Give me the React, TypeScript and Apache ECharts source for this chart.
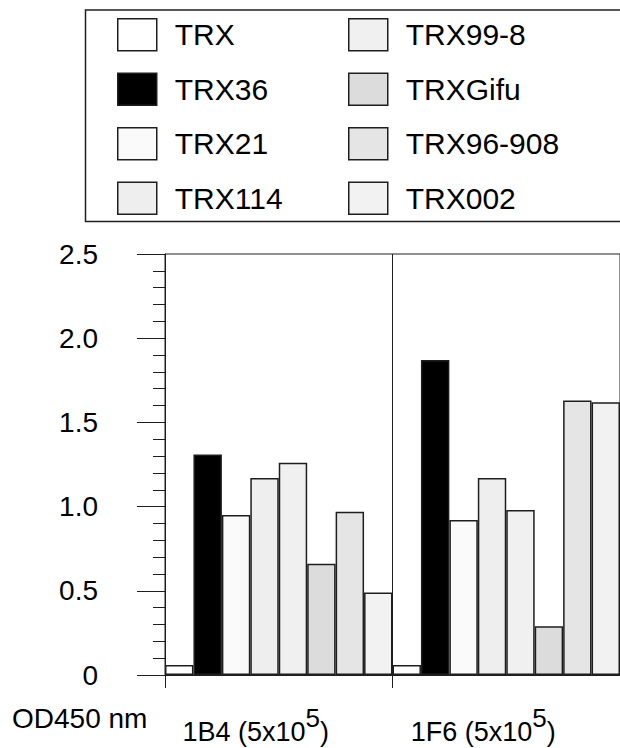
import React, { useEffect, useRef } from "react";
import * as echarts from "echarts";

const categories = ["1B4 (5x10^5)", "1F6 (5x10^5)"];
const seriesNames = ["TRX", "TRX36", "TRX21", "TRX114", "TRX99-8", "TRXGifu", "TRX96-908", "TRX002"];
const seriesColors = ["#ffffff", "#000000", "#fafafa", "#eeeeee", "#f0f0f0", "#dcdcdc", "#e5e5e5", "#f2f2f2"];
const trx = [0.06, 0.06];
const trx36 = [1.31, 1.87];
const trx21 = [0.95, 0.92];
const trx114 = [1.17, 1.17];
const trx99_8 = [1.26, 0.98];
const trxGifu = [0.66, 0.29];
const trx96_908 = [0.97, 1.63];
const trx002 = [0.49, 1.62];
const seriesValues = [trx, trx36, trx21, trx114, trx99_8, trxGifu, trx96_908, trx002];
const yTicks = [0, 0.5, 1.0, 1.5, 2.0, 2.5];
const yTitle = "OD450 nm";

const FONT = '"Liberation Sans", Arial, Helvetica, sans-serif';
const INK = "#1e1e1e";

export default function App() {
  const ref = useRef<HTMLDivElement>(null);
  useEffect(() => {
    if (!ref.current) return;
    const chart = echarts.init(ref.current, null, { renderer: "svg" });
    const legendText = {
      fontFamily: FONT,
      fontSize: 30,
      color: "#000",
      rich: { a: { fontFamily: FONT, fontSize: 30, color: "#000", padding: [0, 0, 0, 13], lineHeight: 32 } },
    };
    const legendCommon = {
      orient: "vertical" as const,
      icon: "rect",
      itemWidth: 39,
      itemHeight: 32,
      itemGap: 21,
      padding: 0,
      selectedMode: false,
      formatter: (n: string) => `{a|${n}}`,
      textStyle: legendText,
      itemStyle: { borderColor: INK, borderWidth: 1.5 },
    };
    chart.setOption({
      animation: false,
      backgroundColor: "#ffffff",
      title: {
        text: yTitle,
        left: 12,
        top: 704,
        padding: 0,
        textStyle: { fontFamily: FONT, fontSize: 28, fontWeight: "normal", color: "#000" },
      },
      legend: [
        { ...legendCommon, left: 117, top: 18, data: seriesNames.slice(0, 4) },
        { ...legendCommon, left: 348, top: 18, data: seriesNames.slice(4) },
      ],
      graphic: [
        {
          type: "rect",
          left: 83,
          top: 7.5,
          shape: { width: 600, height: 211.5 },
          style: { fill: "none", stroke: INK, lineWidth: 1.5 },
          z: 10,
        },
      ],
      grid: {
        left: 165,
        top: 254,
        width: 460,
        height: 421,
        show: true,
        borderColor: INK,
        borderWidth: 1,
        backgroundColor: "transparent",
      },
      xAxis: {
        type: "category",
        data: categories,
        boundaryGap: true,
        axisLine: { show: true, lineStyle: { color: INK, width: 1 } },
        axisTick: { show: true, length: 13, alignWithLabel: false, lineStyle: { color: INK, width: 1 } },
        splitLine: { show: true, lineStyle: { color: INK, width: 1 } },
        axisLabel: {
          margin: 30,
          padding: [0, 46, 0, 0],
          formatter: (v: string) => {
            const m = v.match(/^(.*)\^(\d+)\)$/);
            if (!m) return `{b|${v}}`;
            return `{b|${m[1]}}{s|${m[2]}}{b|)}`;
          },
          rich: {
            b: { fontFamily: FONT, fontSize: 27, color: "#000", lineHeight: 40, verticalAlign: "bottom" },
            s: { fontFamily: FONT, fontSize: 26, color: "#000", lineHeight: 14, verticalAlign: "top" },
          },
        },
      },
      yAxis: {
        type: "value",
        min: yTicks[0],
        max: yTicks[yTicks.length - 1],
        interval: 0.5,
        axisLine: { show: true, lineStyle: { color: INK, width: 1 } },
        axisTick: { show: true, length: 28, lineStyle: { color: INK, width: 1 } },
        minorTick: { show: true, splitNumber: 5, length: 12, lineStyle: { color: INK, width: 1 } },
        splitLine: { show: false },
        axisLabel: {
          margin: 67,
          fontFamily: FONT,
          fontSize: 28,
          color: "#000",
          formatter: (v: number) => (v === 0 ? "0" : v.toFixed(1)),
        },
      },
      series: seriesNames.map((name, i) => ({
        name,
        type: "bar",
        data: seriesValues[i],
        barGap: "0%",
        barCategoryGap: "0%",
        itemStyle: { color: seriesColors[i], borderColor: INK, borderWidth: 1.5 },
      })),
    });
    return () => chart.dispose();
  }, []);
  return (
    <div
      ref={ref}
      style={{ position: "absolute", left: 0, top: 0, width: 620, height: 748 }}
    />
  );
}
